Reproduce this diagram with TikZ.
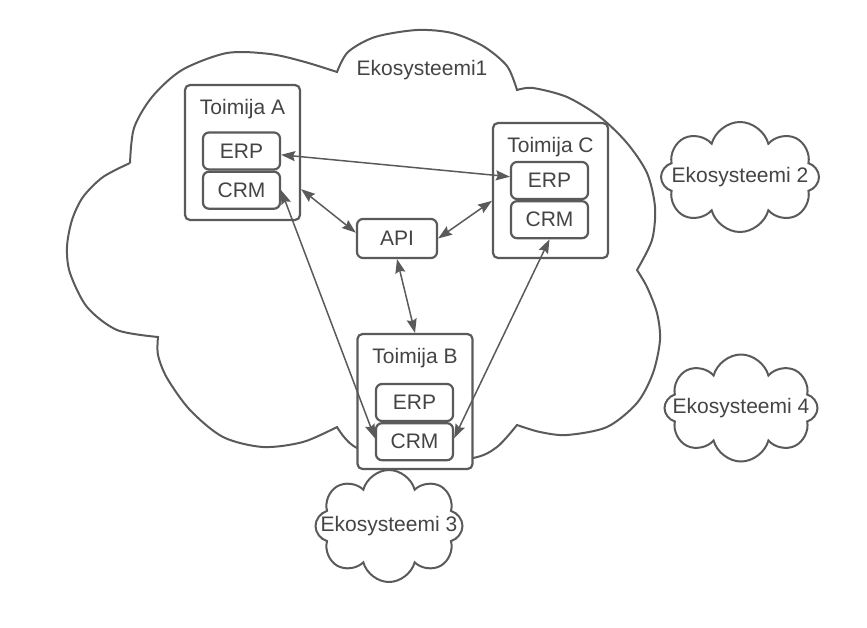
\documentclass[tikz,border=0pt]{standalone}
\usepackage{fontspec}
\setmainfont{Liberation Sans}
\usetikzlibrary{shapes.symbols,arrows.meta,positioning}
\definecolor{linegray}{HTML}{5A5A5A}
\definecolor{textgray}{HTML}{444444}
\tikzset{
  actor/.style={draw=linegray, line width=2.2pt, rounded corners=5pt, fill=white,
    minimum width=115pt, minimum height=135pt},
  sysbox/.style={draw=linegray, line width=2.2pt, rounded corners=6pt, fill=white,
    minimum width=77pt, minimum height=37pt, inner sep=0pt, text=textgray},
  title/.style={text=textgray, inner sep=0pt, anchor=base},
  smallcloud/.style={cloud, cloud puffs=8, aspect=1.4, draw=linegray, line width=2pt,
    inner sep=0pt, label={[text=textgray]center:#1}},
  cloudline/.style={draw=linegray, line width=2pt},
  link/.style={linegray, line width=1.5pt, {Stealth[length=14pt,width=10pt,inset=2pt]}-{Stealth[length=14pt,width=10pt,inset=2pt]}},
}
\begin{document}
\begin{tikzpicture}[x=1pt, y=-1pt, font=\fontsize{21}{25}\selectfont]
  \useasboundingbox (0,0) rectangle (867,627);
  % big cloud
  \draw[cloudline] plot[smooth] coordinates {(130,163) (134,128) (152,97) (182,70) (227,53) (270,54) (305,62) (337,72)}
    -- plot[smooth] coordinates {(337,72) (348,52) (375,37) (417,30) (452,33) (483,46) (507,66) (517,90)}
    -- plot[smooth] coordinates {(517,90) (533,88) (567,97) (600,117) (627,143) (647,173) (655,207) (652,240) (637,270)}
    -- plot[smooth] coordinates {(637,270) (647,287) (657,313) (660,340) (653,373) (637,403) (607,427) (567,435) (540,432) (517,425)}
    -- plot[smooth] coordinates {(517,425) (497,447) (473,458) (415,462) (357,448) (337,427)}
    -- plot[smooth] coordinates {(337,427) (303,442) (263,447) (223,437) (190,410) (167,378) (158,355) (158,337)}
    -- plot[smooth] coordinates {(158,337) (117,330) (87,307) (70,273) (67,247) (72,220) (83,197) (103,177) (130,163)};
  \node[title] (eko1) at (422,75) {Ekosysteemi1};

  % small clouds
  \node[smallcloud=Ekosysteemi 2, minimum width=158pt, minimum height=110pt] (eko2) at (740,177) {};
  \node[smallcloud=Ekosysteemi 4, minimum width=153pt, minimum height=107pt] (eko4) at (741,408) {};
  \node[smallcloud=Ekosysteemi 3, minimum width=147pt, minimum height=112pt] (eko3) at (389,526) {};

  % Toimija A
  \node[actor] (toimijaA) at (242.5,152.5) {};
  \node[title] (titleA) at (242.5,114) {Toimija A};
  \node[sysbox] (erpA) at (241.5,151) {ERP};
  \node[sysbox, below=0pt of erpA] (crmA) {CRM};

  % Toimija C
  \node[actor] (toimijaC) at (550.5,190.5) {};
  \node[title] (titleC) at (550.5,152) {Toimija C};
  \node[sysbox] (erpC) at (549.5,180.5) {ERP};
  \node[sysbox, below=0pt of erpC] (crmC) {CRM};

  % Toimija B
  \node[actor] (toimijaB) at (415,401.5) {};
  \node[title] (titleB) at (415,363) {Toimija B};
  \node[sysbox] (erpB) at (414.5,402.5) {ERP};
  \node[sysbox, below=0pt of erpB] (crmB) {CRM};

  \node[sysbox, minimum width=80pt, minimum height=39pt] (api) at (397,238.5) {API};

  % links
  \draw[link] (erpA) -- (erpC);
  \draw[link] (toimijaA.-32) -- (api.172);
  \draw[link] (api.east) -- (toimijaC.190);
  \draw[link] (api.south) -- (toimijaB.north);
  \draw[link] (crmA.east) -- (crmB.175);
  \draw[link] (crmC.south) -- (crmB.5);
\end{tikzpicture}
\end{document}
